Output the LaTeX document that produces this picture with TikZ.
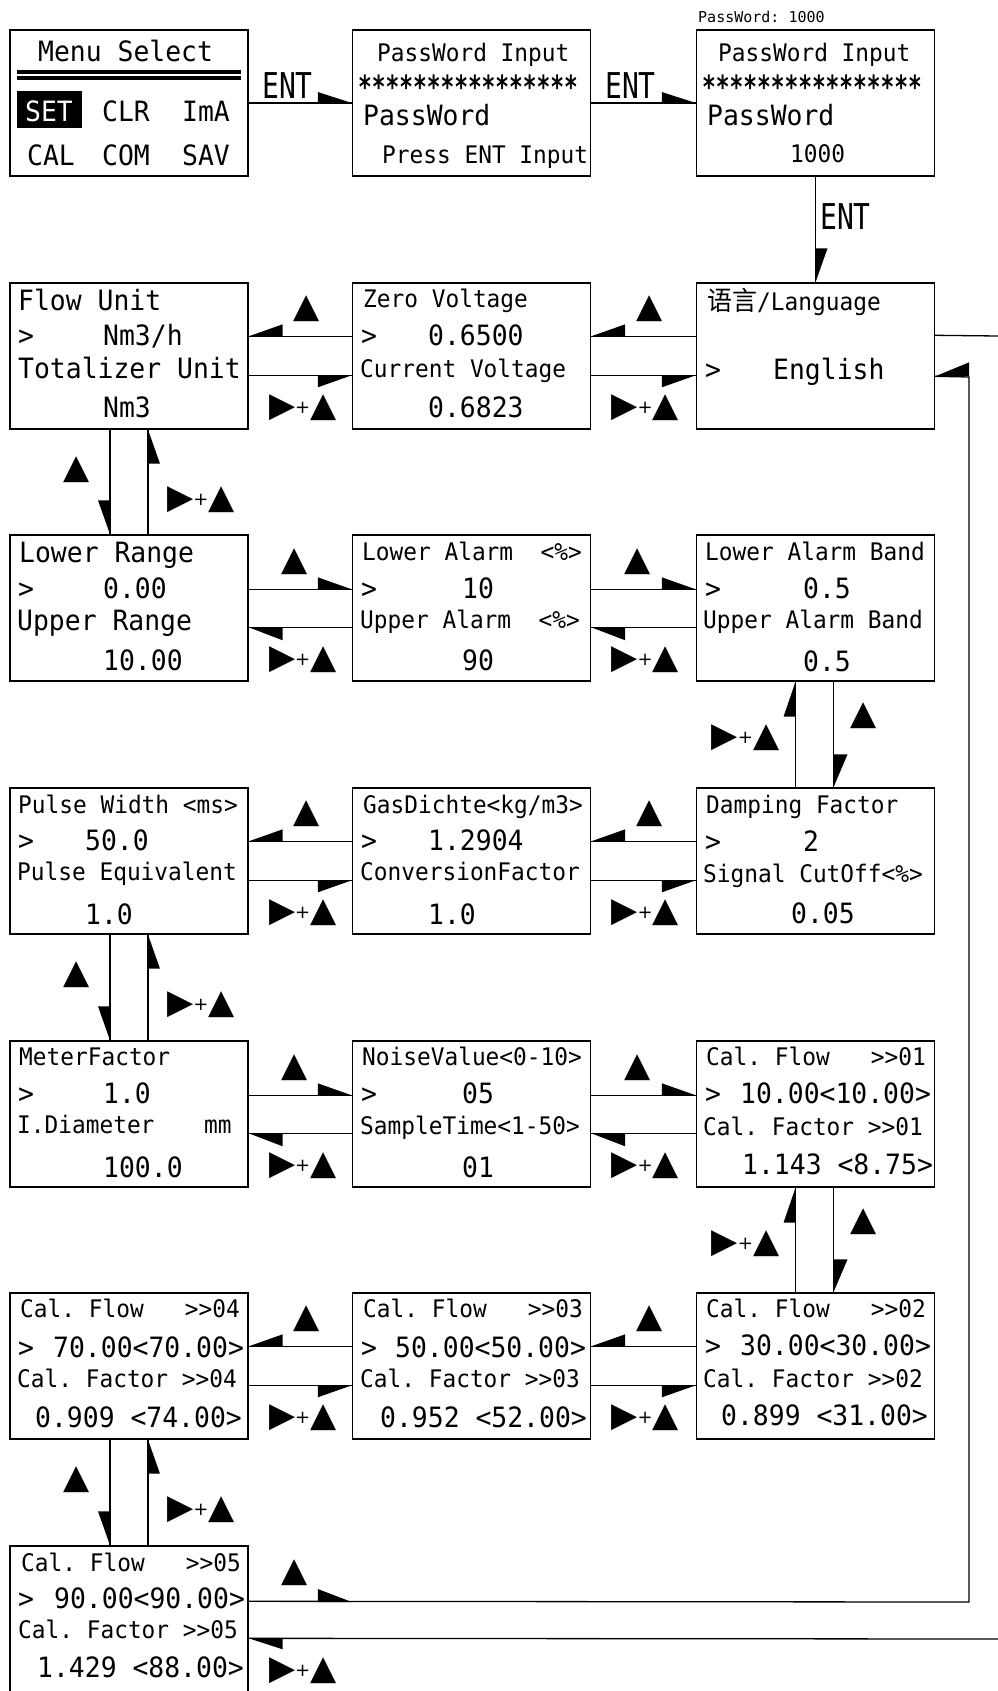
\documentclass[tikz,border=0pt]{standalone}
\usepackage{fontspec}
\usepackage{graphicx}
\setmonofont{DejaVu Sans Mono}
\newfontfamily\cjk{Noto Sans CJK SC}
\newfontfamily\djv{DejaVu Sans}
\frenchspacing
\newcommand\fsm{\ttfamily\fontsize{22.8}{24}\selectfont}
\newcommand\flg{\ttfamily\fontsize{26.4}{28}\selectfont}
\newcommand\T[5]{\node[txt,font=#2] (#1) at (#3,#4) {\scalebox{1}[1.06]{#5}};}
\newcommand\symUp{{\djv\fontsize{34}{34}\selectfont ▲}}
\newcommand\symRt{{\djv\fontsize{34}{34}\selectfont ▶}}
\newcommand\symPl{{\djv\fontsize{18}{18}\selectfont\raisebox{3pt}{+}}}
\newcommand\symRU{\symRt\symPl\symUp}
% horizontal pair, rows 2,4,6: upper line points left, lower line points right
\newcommand\hpairA[3]{%
 \draw[conn] ([yshift=-54pt]#1.north east) -- ([yshift=-54pt]#2.north west);
 \fill ([yshift=-54pt]#1.north east) -- ++(34,0) -- ++(0,-12) -- cycle;
 \draw[conn] ([yshift=-93pt]#1.north east) -- ([yshift=-93pt]#2.north west);
 \fill ([yshift=-93pt]#2.north west) -- ++(-34,0) -- ++(0,12) -- cycle;
 \node[lab] (#3u) at ([xshift=58pt,yshift=-26pt]#1.north east) {\symUp};
 \node[lab] (#3d) at ([xshift=54pt,yshift=-125pt]#1.north east) {\symRU};
}
% horizontal pair, rows 3,5: upper line points right, lower line points left
\newcommand\hpairB[3]{%
 \draw[conn] ([yshift=-55pt]#1.north east) -- ([yshift=-55pt]#2.north west);
 \fill ([yshift=-55pt]#2.north west) -- ++(-34,0) -- ++(0,-12) -- cycle;
 \draw[conn] ([yshift=-93pt]#1.north east) -- ([yshift=-93pt]#2.north west);
 \fill ([yshift=-93pt]#1.north east) -- ++(34,0) -- ++(0,13) -- cycle;
 \node[lab] (#3u) at ([xshift=46pt,yshift=-27pt]#1.north east) {\symUp};
 \node[lab] (#3d) at ([xshift=54pt,yshift=-125pt]#1.north east) {\symRU};
}
% vertical pair, left column
\newcommand\vpairL[3]{%
 \draw[conn] ([xshift=-19pt]#1.south) -- ([xshift=-19pt]#2.north);
 \fill ([xshift=-19pt]#2.north) -- ++(0,-34) -- ++(-12,0) -- cycle;
 \draw[conn] ([xshift=19pt]#1.south) -- ([xshift=19pt]#2.north);
 \fill ([xshift=19pt]#1.south) -- ++(0,34) -- ++(12,0) -- cycle;
 \node[lab] (#3l) at ([xshift=-52pt,yshift=-40pt]#1.south) {\symUp};
 \node[lab] (#3r) at ([xshift=72pt,yshift=-70pt]#1.south) {\symRU};
}
% vertical pair, right column
\newcommand\vpairR[3]{%
 \draw[conn] ([xshift=-20pt]#1.south) -- ([xshift=-20pt]#2.north);
 \fill ([xshift=-20pt]#1.south) -- ++(0,35) -- ++(-12,0) -- cycle;
 \draw[conn] ([xshift=18pt]#1.south) -- ([xshift=18pt]#2.north);
 \fill ([xshift=18pt]#2.north) -- ++(0,-33) -- ++(14,0) -- cycle;
 \node[lab] (#3l) at ([xshift=-70pt,yshift=-56pt]#1.south) {\symRU};
 \node[lab] (#3r) at ([xshift=48pt,yshift=-34pt]#1.south) {\symUp};
}
\begin{document}
\begin{tikzpicture}[x=1pt,y=-1pt,
  box/.style={draw,line width=1.4pt,minimum width=238pt,minimum height=146pt,inner sep=0pt},
  conn/.style={line width=1.3pt},
  txt/.style={anchor=base west,inner sep=0pt},
  lab/.style={anchor=center,inner sep=0pt}]
\useasboundingbox (0,0) rectangle (998,1691);
\fill[white] (0,0) rectangle (998,1691);
% boxes
\node[box] (b11) at (129,103) {};
\node[box] (b12) at (471.5,103) {};
\node[box] (b13) at (815.5,103) {};
\node[box] (b21) at (129,356) {};
\node[box] (b22) at (471.5,356) {};
\node[box] (b23) at (815.5,356) {};
\node[box] (b31) at (129,608) {};
\node[box] (b32) at (471.5,608) {};
\node[box] (b33) at (815.5,608) {};
\node[box] (b41) at (129,861) {};
\node[box] (b42) at (471.5,861) {};
\node[box] (b43) at (815.5,861) {};
\node[box] (b51) at (129,1114) {};
\node[box] (b52) at (471.5,1114) {};
\node[box] (b53) at (815.5,1114) {};
\node[box] (b61) at (129,1366) {};
\node[box] (b62) at (471.5,1366) {};
\node[box] (b63) at (815.5,1366) {};
\node[box] (b71) at (129,1619) {};
% row 1 connectors
\draw[conn] (b11.east) -- (b12.west);
\fill (b12.west) -- ++(-34,0) -- ++(0,-11) -- cycle;
\draw[conn] (b12.east) -- (b13.west);
\fill (b13.west) -- ++(-34,0) -- ++(0,-11) -- cycle;
\draw[conn] (b13.south) -- (b23.north);
\fill (b23.north) -- ++(0,-34) -- ++(12,0) -- cycle;
\node[txt,font=\ttfamily\fontsize{28}{28}\selectfont] (ent1) at (262,99) {\scalebox{1}[1.27]{ENT}};
\node[txt,font=\ttfamily\fontsize{28}{28}\selectfont] (ent2) at (605,99) {\scalebox{1}[1.27]{ENT}};
\node[txt,font=\ttfamily\fontsize{28}{28}\selectfont] (ent3) at (820,229) {\scalebox{1}[1.27]{ENT}};
% pairs
\hpairA{b21}{b22}{h21}
\hpairA{b22}{b23}{h22}
\hpairB{b31}{b32}{h31}
\hpairB{b32}{b33}{h32}
\hpairA{b41}{b42}{h41}
\hpairA{b42}{b43}{h42}
\hpairB{b51}{b52}{h51}
\hpairB{b52}{b53}{h52}
\hpairA{b61}{b62}{h61}
\hpairA{b62}{b63}{h62}
\vpairL{b21}{b31}{v1}
\vpairL{b41}{b51}{v2}
\vpairL{b61}{b71}{v3}
\vpairR{b33}{b43}{v4}
\vpairR{b53}{b63}{v5}
% loops
\coordinate (c1) at (969,1602);
\coordinate (c2) at (969,377);
\draw[conn] ([yshift=-56pt]b71.north east) -- (c1) -- (c2) -- ([yshift=-94pt]b23.north east);
\fill ([yshift=-94pt]b23.north east) -- ++(34,0) -- ++(0,-14) -- cycle;
\fill (b62.west |- c1) -- ++(-34,0) -- ++(0,-13) -- cycle;
\node[lab] (h71u) at ([xshift=46pt,yshift=-27pt]b71.north east) {\symUp};
\node[lab] (h71d) at ([xshift=54pt,yshift=-125pt]b71.north east) {\symRU};
\coordinate (e1) at (998,336);
\draw[conn] ([yshift=-53pt]b23.north east) -- (e1);
\coordinate (e2) at (998,1639);
\draw[conn] (e2) -- ([yshift=-93pt]b71.north east);
\fill ([yshift=-93pt]b71.north east) -- ++(34,0) -- ++(0,11) -- cycle;
% box 11
\T{t11a}{\flg}{38}{62}{Menu Select}
\fill (17,70) rectangle (241,74.5);
\fill (17,76.5) rectangle (241,80.5);
\node[fill=black,minimum width=65pt,minimum height=37pt,inner sep=0pt] (setbg) at (49.5,109.5) {};
\node[txt,font=\flg,text=white] (t11b) at (25,122) {\scalebox{1}[1.06]{SET}};
\T{t11c}{\flg}{102}{122}{CLR}
\T{t11d}{\flg}{182}{122}{ImA}
\T{t11e}{\flg}{27}{165}{CAL}
\T{t11f}{\flg}{102}{165}{COM}
\T{t11g}{\flg}{182}{165}{SAV}
% box 12
\T{t12a}{\fsm}{377}{62}{PassWord Input}
\T{t12b}{\fsm\bfseries}{358}{99}{\scalebox{1}[1.32]{****************}}
\T{t12c}{\flg}{363}{125}{PassWord}
\T{t12d}{\fsm}{382}{163}{Press ENT Input}
% box 13
\node[txt,font=\ttfamily\fontsize{15}{16}\selectfont] (pw) at (698,23) {PassWord: 1000};
\T{t13a}{\fsm}{718}{62}{PassWord Input}
\T{t13b}{\fsm\bfseries}{702}{99}{\scalebox{1}[1.32]{****************}}
\T{t13c}{\flg}{707}{125}{PassWord}
\T{t13d}{\fsm}{790}{162}{1000}
% box 21
\T{t21a}{\flg}{18}{310}{Flow Unit}
\T{t21b}{\flg}{18}{345}{>}
\T{t21c}{\flg}{103}{345}{Nm3/h}
\T{t21d}{\flg}{18}{378}{Totalizer Unit}
\T{t21e}{\flg}{103}{417}{Nm3}
% box 22
\T{t22a}{\fsm}{363}{307}{Zero Voltage}
\T{t22b}{\flg}{361}{345}{>}
\T{t22c}{\flg}{428}{345}{0.6500}
\T{t22d}{\fsm}{360}{377}{Current Voltage}
\T{t22e}{\flg}{428}{417}{0.6823}
% box 23
\T{t23a}{\fsm}{707}{310}{{\cjk\fontsize{25}{26}\selectfont 语言}/Language}
\T{t23b}{\flg}{705}{379}{>}
\T{t23c}{\flg}{773}{379}{English}
% box 31
\T{t31a}{\flg}{19}{562}{Lower Range}
\T{t31b}{\flg}{18}{598}{>}
\T{t31c}{\flg}{103}{598}{0.00}
\T{t31d}{\flg}{17}{630}{Upper Range}
\T{t31e}{\flg}{103}{670}{10.00}
% box 32
\T{t32a}{\fsm}{362}{560}{Lower Alarm~~<\%>}
\T{t32b}{\flg}{361}{598}{>}
\T{t32c}{\flg}{462}{598}{10}
\T{t32d}{\fsm}{360}{628}{Upper Alarm~~<\%>}
\T{t32e}{\flg}{462}{670}{90}
% box 33
\T{t33a}{\fsm}{705}{560}{Lower Alarm Band}
\T{t33b}{\flg}{705}{598}{>}
\T{t33c}{\flg}{803}{598}{0.5}
\T{t33d}{\fsm}{703}{628}{Upper Alarm Band}
\T{t33e}{\flg}{803}{671}{0.5}
% box 41
\T{t41a}{\fsm}{18}{813}{Pulse Width <ms>}
\T{t41b}{\flg}{18}{850}{>}
\T{t41c}{\flg}{85}{850}{50.0}
\T{t41d}{\fsm}{17}{880}{Pulse Equivalent}
\T{t41e}{\flg}{85}{924}{1.0}
% box 42
\T{t42a}{\fsm}{363}{813}{GasDichte<kg/m3>}
\T{t42b}{\flg}{361}{850}{>}
\T{t42c}{\flg}{428}{850}{1.2904}
\T{t42d}{\fsm}{360}{880}{ConversionFactor}
\T{t42e}{\flg}{428}{924}{1.0}
% box 43
\T{t43a}{\fsm}{706}{813}{Damping Factor}
\T{t43b}{\flg}{705}{851}{>}
\T{t43c}{\flg}{803}{851}{2}
\T{t43d}{\fsm}{703}{882}{Signal CutOff<\%>}
\T{t43e}{\flg}{791}{923}{0.05}
% box 51
\T{t51a}{\fsm}{19}{1065}{MeterFactor}
\T{t51b}{\flg}{18}{1103}{>}
\T{t51c}{\flg}{103}{1103}{1.0}
\T{t51d}{\fsm}{17}{1133}{I.Diameter}
\T{t51e}{\fsm}{204}{1133}{mm}
\T{t51f}{\flg}{103}{1177}{100.0}
% box 52
\T{t52a}{\fsm}{362}{1065}{NoiseValue<0-10>}
\T{t52b}{\flg}{361}{1103}{>}
\T{t52c}{\flg}{462}{1103}{05}
\T{t52d}{\fsm}{360}{1134}{SampleTime<1-50>}
\T{t52e}{\flg}{462}{1177}{01}
% box 53
\T{t53a}{\fsm}{706}{1065}{Cal. Flow~~~>>01}
\T{t53b}{\flg}{705}{1103}{>}
\T{t53c}{\flg}{740}{1103}{10.00<10.00>}
\T{t53d}{\fsm}{703}{1135}{Cal. Factor >>01}
\T{t53e}{\flg}{742}{1174}{1.143 <8.75>}
% box 61
\T{t61a}{\fsm}{20}{1317}{Cal. Flow~~~>>04}
\T{t61b}{\flg}{18}{1357}{>}
\T{t61c}{\flg}{53}{1357}{70.00<70.00>}
\T{t61d}{\fsm}{17}{1387}{Cal. Factor >>04}
\T{t61e}{\flg}{35}{1427}{0.909 <74.00>}
% box 62
\T{t62a}{\fsm}{363}{1317}{Cal. Flow~~~>>03}
\T{t62b}{\flg}{361}{1357}{>}
\T{t62c}{\flg}{395}{1357}{50.00<50.00>}
\T{t62d}{\fsm}{360}{1387}{Cal. Factor >>03}
\T{t62e}{\flg}{380}{1427}{0.952 <52.00>}
% box 63
\T{t63a}{\fsm}{706}{1317}{Cal. Flow~~~>>02}
\T{t63b}{\flg}{705}{1355}{>}
\T{t63c}{\flg}{740}{1355}{30.00<30.00>}
\T{t63d}{\fsm}{703}{1387}{Cal. Factor >>02}
\T{t63e}{\flg}{721}{1425}{0.899 <31.00>}
% box 71
\T{t71a}{\fsm}{21}{1571}{Cal. Flow~~~>>05}
\T{t71b}{\flg}{18}{1608}{>}
\T{t71c}{\flg}{54}{1608}{90.00<90.00>}
\T{t71d}{\fsm}{18}{1638}{Cal. Factor >>05}
\T{t71e}{\flg}{37}{1677}{1.429 <88.00>}
\end{tikzpicture}
\end{document}
